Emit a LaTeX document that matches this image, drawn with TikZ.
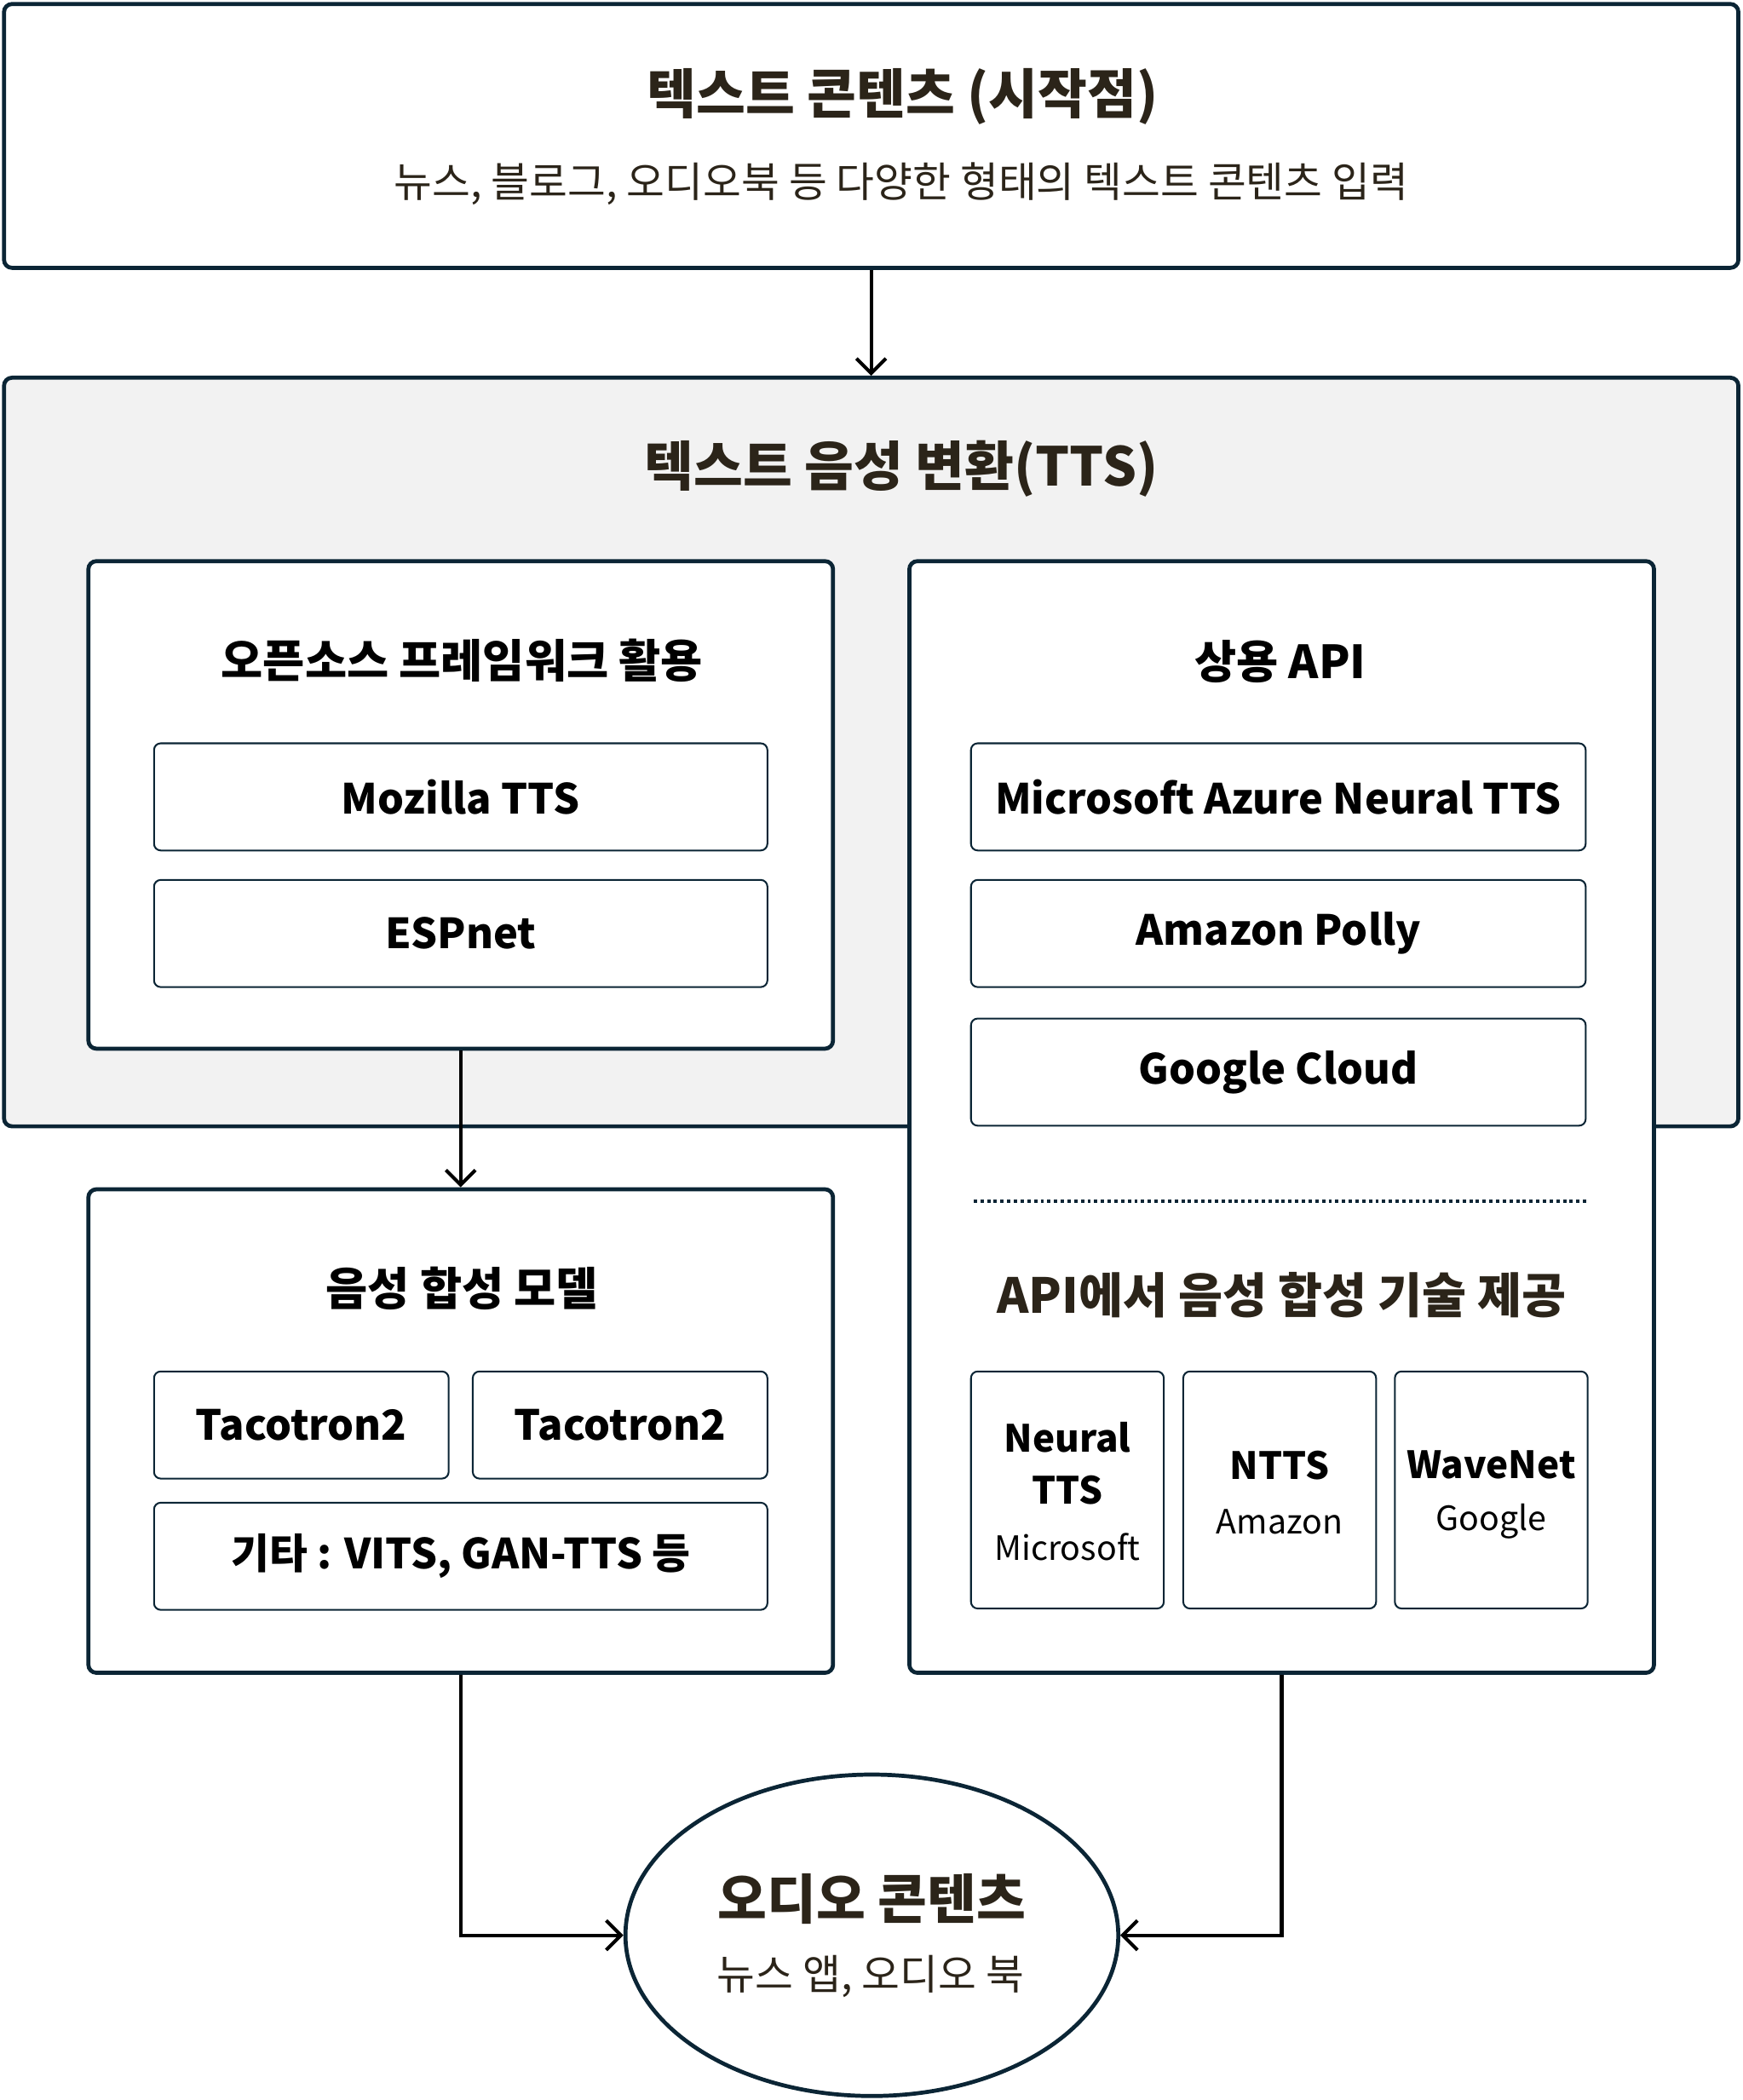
\documentclass[tikz,border=0pt]{standalone}
\usepackage{fontspec}
\setmainfont{Noto Sans CJK KR}
\usetikzlibrary{arrows.meta,shapes.geometric}
\definecolor{edge}{HTML}{0B2535}
\definecolor{ink}{HTML}{2B2419}
\definecolor{panel}{HTML}{F2F2F2}
\begin{document}
\begin{tikzpicture}[x=1pt,y=-1pt,
  bigbox/.style={draw=edge,line width=3pt,rounded corners=6pt,fill=white,inner sep=0pt},
  itembox/.style={draw=edge,line width=1.3pt,rounded corners=5pt,fill=white,inner sep=0pt,minimum height=80},
  ttl/.style={text=ink,font=\bfseries\fontsize{40}{46}\selectfont},
  sub/.style={text=ink,font=\fontsize{31}{36}\selectfont},
  head/.style={text=black,font=\bfseries\fontsize{34}{40}\selectfont},
  item/.style={text=black,font=\bfseries\fontsize{31}{36}\selectfont},
  small/.style={text=black,font=\bfseries\fontsize{28}{39}\selectfont},
  tiny/.style={text=black,font=\fontsize{25}{30}\selectfont},
  arr/.style={-{Straight Barb[length=11pt,width=22pt]},line width=2.6pt,black}]
\useasboundingbox (0,0) rectangle (1301,1568);
\node[bigbox,minimum width=1295,minimum height=197] (src) at (650.5,101.5) {};
\node[ttl] (srcT) at (674,72) {텍스트 콘텐츠 (시작점)};
\node[sub] (srcS) at (673,137) {뉴스, 블로그, 오디오북 등 다양한 형태의 텍스트 콘텐츠 입력};
\node[bigbox,fill=panel,minimum width=1295,minimum height=559] (tts) at (650.5,561.5) {};
\node[ttl] (ttsT) at (673,350) {텍스트 음성 변환(TTS)};
\draw[arr] (src.south) -- (tts.north);
\node[bigbox,minimum width=556,minimum height=364] (oss) at (344,601) {};
\node[head] (ossT) at (345,493) {오픈소스 프레임워크 활용};
\node[itembox,minimum width=458] (moz) at (344,595) {};
\node[item] at (moz) {Mozilla TTS};
\node[itembox,minimum width=458] (esp) at (344,697) {};
\node[item] at (esp) {ESPnet};
\node[bigbox,minimum width=556,minimum height=830] (api) at (957,834) {};
\node[head] (apiT) at (956,494) {상용 API};
\node[itembox,minimum width=459] (azure) at (954.5,595) {};
\node[item] at (azure) {Microsoft Azure Neural TTS};
\node[itembox,minimum width=459] (polly) at (954.5,697) {};
\node[item] at (polly) {Amazon Polly};
\node[itembox,minimum width=459] (gcloud) at (954.5,800.5) {};
\node[item] at (gcloud) {Google Cloud};
\draw[line width=2.5pt,dash pattern=on 2.5pt off 2.5pt,edge] (727,897) -- (1185,897);
\node[ttl,font=\bfseries\fontsize{36}{42}\selectfont] (techT) at (957,967) {API에서 음성 합성 기술 제공};
\node[itembox,minimum width=144,minimum height=177] (ms) at (797,1112.5) {};
\node[small,align=center] (msA) at (797,1092.5) {Neural\\TTS};
\node[tiny] (msB) at (797,1155) {Microsoft};
\node[itembox,minimum width=144,minimum height=177] (amz) at (955.5,1112.5) {};
\node[small] (amzA) at (955.5,1094) {NTTS};
\node[tiny] (amzB) at (955.5,1136) {Amazon};
\node[itembox,minimum width=144,minimum height=177] (ggl) at (1113.5,1112.5) {};
\node[small] (gglA) at (1113.5,1094) {WaveNet};
\node[tiny] (gglB) at (1113.5,1136) {Google};
\node[bigbox,minimum width=556,minimum height=361] (model) at (344,1068.5) {};
\node[head] (modelT) at (345,962) {음성 합성 모델};
\draw[arr] (oss.south) -- (model.north);
\node[itembox,minimum width=220] (taco1) at (225,1064) {};
\node[item] at (taco1) {Tacotron2};
\node[itembox,minimum width=220] (taco2) at (463,1064) {};
\node[item] at (taco2) {Tacotron2};
\node[itembox,minimum width=458] (etc) at (344,1162) {};
\node[item] at (etc) {기타 : VITS, GAN-TTS 등};
\node[ellipse,draw=edge,line width=3pt,fill=white,minimum width=368,minimum height=240,inner sep=0pt] (audio) at (651,1445) {};
\node[ttl] (audioT) at (651,1418) {오디오 콘텐츠};
\node[sub] (audioS) at (650,1476) {뉴스 앱, 오디오 북};
\draw[arr] (model.south) |- (audio.west);
\draw[arr] (api.south) |- (audio.east);
\end{tikzpicture}
\end{document}
